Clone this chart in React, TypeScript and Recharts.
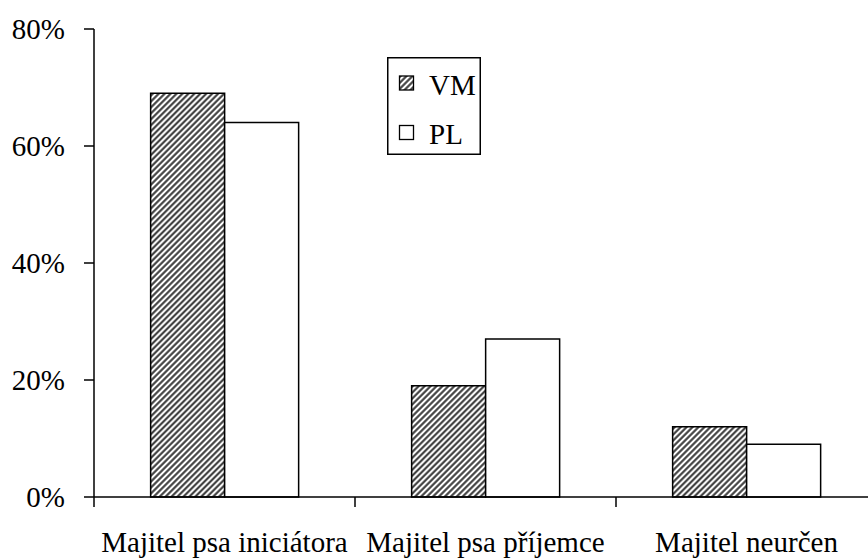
import React from 'react';
import { BarChart, Bar, XAxis, YAxis, Legend } from 'recharts';

const categories = ['Majitel psa iniciátora', 'Majitel psa příjemce', 'Majitel neurčen'];
const vmValues = [69, 19, 12];
const plValues = [64, 27, 9];
const yTicks = [0, 20, 40, 60, 80];
const seriesNames = ['VM', 'PL'];

const data = categories.map((name, i) => ({ name, VM: vmValues[i], PL: plValues[i] }));

const FONT = "Times, 'Times New Roman', Tinos, 'Nimbus Roman', 'Liberation Serif', 'DejaVu Serif', serif";
const textStyle = { fontFamily: FONT, fontSize: 29 };

const HatchDef: React.FC<{ id: string }> = ({ id }) => (
  <pattern id={id} patternUnits="userSpaceOnUse" width={4.2} height={4.2} patternTransform="rotate(45)">
    <rect x={0} y={0} width={4.2} height={4.2} fill="#fff" />
    <line x1={2.1} y1={0} x2={2.1} y2={4.2} stroke="#333" strokeWidth={2} />
  </pattern>
);

// category label plus a tick mark on the left edge of each band
const CategoryTick = (props: any) => {
  const { x, y, payload } = props;
  const off = payload && payload.offset ? payload.offset : 0;
  return (
    <g>
      <line x1={x - off} y1={y} x2={x - off} y2={y + 10} stroke="#000" strokeWidth={1.5} />
      <text x={x} y={y + 55} textAnchor="middle" fill="#000" style={textStyle}>
        {payload.value}
      </text>
    </g>
  );
};

const ValueTick = (props: any) => {
  const { x, y, payload } = props;
  return (
    <text x={x} y={y} dy={10} textAnchor="end" fill="#000" style={textStyle}>
      {`${payload.value}%`}
    </text>
  );
};

const LegendBox = () => (
  <svg width={94} height={98} style={{ display: 'block' }}>
    <defs>
      <HatchDef id="hatchLegend" />
    </defs>
    <rect x={0.75} y={0.75} width={92.5} height={96.5} fill="#fff" stroke="#000" strokeWidth={1.5} />
    {seriesNames.map((n, i) => (
      <g key={n}>
        <rect
          x={12.5}
          y={19 + i * 49.5}
          width={14}
          height={14}
          fill={i === 0 ? 'url(#hatchLegend)' : '#fff'}
          stroke="#000"
          strokeWidth={1.3}
        />
        <text x={42} y={38 + i * 48.5} fill="#000" style={textStyle}>
          {n}
        </text>
      </g>
    ))}
  </svg>
);

export default function App() {
  return (
    <div style={{ position: 'absolute', left: 0, top: 0, width: 868, height: 560, overflow: 'hidden', background: '#fff', fontFamily: FONT }}>
      <BarChart
        width={880}
        height={560}
        data={data}
        margin={{ top: 29, right: 3, bottom: 0, left: 0 }}
        barCategoryGap="21.7%"
        barGap={0}
      >
        <defs>
          <HatchDef id="hatchVM" />
        </defs>
        <XAxis
          dataKey="name"
          height={63}
          axisLine={{ stroke: '#000', strokeWidth: 1.5 }}
          tickLine={false}
          tickSize={0}
          tickMargin={0}
          interval={0}
          tick={<CategoryTick />}
        />
        <YAxis
          width={94}
          domain={[0, 80]}
          ticks={yTicks}
          interval={0}
          axisLine={{ stroke: '#000', strokeWidth: 1.5 }}
          tickLine={{ stroke: '#000', strokeWidth: 1.5 }}
          tickSize={10}
          tickMargin={19}
          tick={<ValueTick />}
        />
        <Legend
          layout="vertical"
          align="center"
          verticalAlign="middle"
          content={() => <LegendBox />}
          wrapperStyle={{ position: 'absolute', left: 387, top: 57, width: 94, height: 98 }}
        />
        <Bar dataKey="VM" fill="url(#hatchVM)" stroke="#000" strokeWidth={1.5} isAnimationActive={false} />
        <Bar dataKey="PL" fill="#fff" stroke="#000" strokeWidth={1.5} isAnimationActive={false} />
      </BarChart>
    </div>
  );
}
